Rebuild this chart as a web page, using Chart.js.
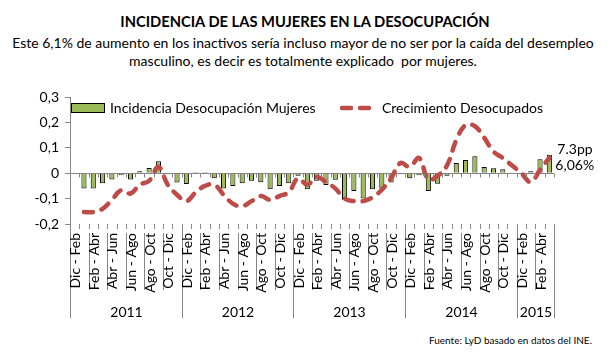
<!DOCTYPE html>
<html>
<head>
<meta charset="utf-8">
<script src="https://cdn.jsdelivr.net/npm/chart.js@4.4.0/dist/chart.umd.min.js"></script>
<style>
  html, body { margin: 0; padding: 0; background: #fff; }
  #wrap { position: relative; width: 614px; height: 364px; overflow: hidden; }
  .txt { position: absolute; left: 0; width: 614px; text-align: center; font-family: Lato, sans-serif; color: #000; white-space: nowrap; }
  #title { top: 12px; left: -2px; font-weight: bold; font-size: 14.7px; }
  #sub { top: 34px; left: -4px; font-size: 14px; line-height: 18px; }
  #src { left: auto; right: 22px; width: auto; top: 334px; font-size: 10px; }
  canvas { position: absolute; left: 0; top: 0; }
</style>
</head>
<body>
<div id="wrap">
  <div class="txt" id="title">INCIDENCIA DE LAS MUJERES EN LA DESOCUPACIÓN</div>
  <div class="txt" id="sub">Este 6,1% de aumento en los inactivos sería incluso mayor de no ser por la caída del desempleo<br>masculino, es decir es totalmente explicado&nbsp; por mujeres.</div>
  <div class="txt" id="src">Fuente: LyD basado en datos del INE.</div>
  <canvas id="chart" width="614" height="364"></canvas>
</div>
<script>
// data
const years = ['2011', '2012', '2013', '2014', '2015'];
const monthsPerYear = [12, 12, 12, 12, 4];
const periods = ['Dic - Feb', 'Ene - Mar', 'Feb - Abr', 'Mar - May', 'Abr - Jun', 'May - Jul',
                 'Jun - Ago', 'Jul - Sep', 'Ago - Oct', 'Sep - Nov', 'Oct - Dic', 'Nov - Ene'];

const incidenciaMujeres = [
  null, -0.06, -0.06, -0.04, -0.025, -0.008, -0.025, 0.008, 0.02, 0.047, -0.004, -0.037,
  -0.043, 0.004, 0.004, -0.02, -0.06, -0.05, -0.04, -0.03, -0.036, -0.063, -0.05, -0.04,
  -0.01, -0.063, -0.03, -0.046, -0.026, -0.105, -0.07, -0.1, -0.063, -0.06, -0.037, -0.003,
  -0.02, -0.008, -0.07, -0.042, -0.01, 0.04, 0.052, 0.067, 0.024, 0.019, 0.016, 0.003,
  -0.003, 0.008, 0.055, 0.073
];
const crecimientoDesocupados = [
  null, -0.153, -0.153, -0.14, -0.105, -0.067, -0.08, -0.045, -0.03, 0.025, -0.045, -0.085,
  -0.11, -0.075, -0.05, -0.045, -0.085, -0.12, -0.13, -0.11, -0.09, -0.105, -0.09, -0.075,
  -0.02, -0.045, -0.015, -0.035, -0.06, -0.1, -0.11, -0.11, -0.095, -0.065, -0.02, 0.04,
  0.025, 0.06, -0.025, -0.01, 0.03, 0.13, 0.19, 0.185, 0.14, 0.085, 0.06, 0.03,
  0.0, -0.035, 0.013, 0.0606
];
const yTicks = [-0.2, -0.1, 0, 0.1, 0.2, 0.3];
const endLabels = ['7.3pp', '6,06%'];

const labels = [];
const yearStarts = [0];
years.forEach((yr, k) => {
  for (let m = 0; m < monthsPerYear[k]; m++) labels.push(periods[m]);
  yearStarts.push(labels.length);
});

const FONT = 'Lato, sans-serif';
const GREY = '#868686';

// draws the two-level category axis, the legend and the end labels
const decorations = {
  id: 'decorations',
  afterDraw(chart) {
    const ctx = chart.ctx;
    const xs = chart.scales.x, ys = chart.scales.y, area = chart.chartArea;
    const step = xs.getPixelForValue(1) - xs.getPixelForValue(0);
    const edge = i => Math.round(xs.getPixelForValue(i) - step / 2) + 0.5;
    const y0 = Math.round(ys.getPixelForValue(0)) + 0.5;
    const bottom = Math.round(area.bottom);

    ctx.save();
    ctx.strokeStyle = GREY;
    ctx.lineWidth = 1;
    ctx.beginPath();
    for (let i = 1; i <= labels.length; i++) {
      // ticks hanging from the zero line
      ctx.moveTo(edge(i), y0);
      ctx.lineTo(edge(i), y0 + 4);
      // short ticks under the plot
      ctx.moveTo(edge(i), bottom);
      ctx.lineTo(edge(i), bottom + 5);
    }
    for (let i = 0; i <= labels.length; i += 2) {
      if (yearStarts.includes(i)) continue;
      ctx.moveTo(edge(i), bottom + 9);
      ctx.lineTo(edge(i), bottom + 66);
    }
    yearStarts.forEach(i => {
      ctx.moveTo(edge(i), bottom);
      ctx.lineTo(edge(i), bottom + 94);
    });
    ctx.stroke();

    // period labels, every second one, rotated
    ctx.fillStyle = '#000';
    ctx.font = '14px ' + FONT;
    labels.forEach((lab, i) => {
      if (i % 2) return;
      ctx.save();
      ctx.translate(xs.getPixelForValue(i) + 1, bottom + 9);
      ctx.rotate(-Math.PI / 2);
      ctx.textAlign = 'right';
      ctx.textBaseline = 'middle';
      ctx.fillText(lab, 0, 0);
      ctx.restore();
    });

    // year labels
    ctx.font = '14px ' + FONT;
    ctx.textAlign = 'center';
    ctx.textBaseline = 'middle';
    years.forEach((yr, k) => {
      const a = edge(yearStarts[k]), b = edge(yearStarts[k + 1]);
      ctx.fillText(yr, (a + b) / 2, bottom + 88);
    });

    // legend
    const bars = chart.data.datasets[1], line = chart.data.datasets[0];
    const ly = area.top + 11;
    ctx.font = '14px ' + FONT;
    ctx.textAlign = 'left';
    ctx.fillStyle = bars.backgroundColor;
    ctx.fillRect(area.left + 1.5, ly - 4.5, 33, 9);
    ctx.strokeStyle = '#000';
    ctx.strokeRect(area.left + 1.5, ly - 4.5, 33, 9);
    ctx.fillStyle = '#000';
    ctx.fillText(bars.label, area.left + 40, ly);

    ctx.strokeStyle = line.borderColor;
    ctx.lineWidth = line.borderWidth;
    ctx.lineCap = 'round';
    ctx.setLineDash(line.borderDash);
    ctx.beginPath();
    ctx.moveTo(area.left + 272, ly);
    ctx.lineTo(area.left + 308, ly);
    ctx.stroke();
    ctx.setLineDash([]);
    ctx.fillText(line.label, area.left + 312, ly);

    // end labels
    const last = labels.length - 1;
    const xl = xs.getPixelForValue(last);
    ctx.fillText(endLabels[0], xl + 8, ys.getPixelForValue(incidenciaMujeres[last]) - 5);
    ctx.fillText(endLabels[1], xl + 6, ys.getPixelForValue(crecimientoDesocupados[last]) + 8);
    ctx.restore();
  }
};

const chart = new Chart(document.getElementById('chart'), {
  type: 'bar',
  data: {
    labels: labels,
    datasets: [
      {
        type: 'line',
        label: 'Crecimiento Desocupados',
        data: crecimientoDesocupados,
        borderColor: '#BE4B48',
        borderWidth: 4.5,
        borderDash: [9, 9],
        borderCapStyle: 'round',
        pointRadius: 0,
        tension: 0.4,
        fill: false,
        order: 0
      },
      {
        label: 'Incidencia Desocupación Mujeres',
        data: incidenciaMujeres,
        backgroundColor: '#9BBB59',
        borderColor: '#000',
        borderWidth: 1,
        barPercentage: 0.55,
        categoryPercentage: 1,
        order: 1
      }
    ]
  },
  options: {
    responsive: false,
    animation: false,
    events: [],
    layout: { padding: { top: 97, right: 60, bottom: 140, left: 0 } },
    plugins: { legend: { display: false }, title: { display: false }, tooltip: { enabled: false } },
    scales: {
      x: { display: false },
      y: {
        min: -0.2,
        max: 0.3,
        afterBuildTicks: s => { s.ticks = yTicks.map(v => ({ value: v })); },
        afterFit: s => { s.width = 70; },
        border: { color: GREY },
        grid: {
          color: c => (c.tick && Math.abs(c.tick.value) < 1e-9 ? GREY : 'rgba(0,0,0,0)'),
          tickColor: GREY,
          tickLength: 5
        },
        ticks: {
          padding: 6,
          color: '#000',
          font: { family: FONT, size: 14 },
          callback: v => (Math.abs(v) < 1e-9 ? '0' : v.toFixed(1).replace('.', ','))
        }
      }
    }
  },
  plugins: [decorations]
});
</script>
</body>
</html>
